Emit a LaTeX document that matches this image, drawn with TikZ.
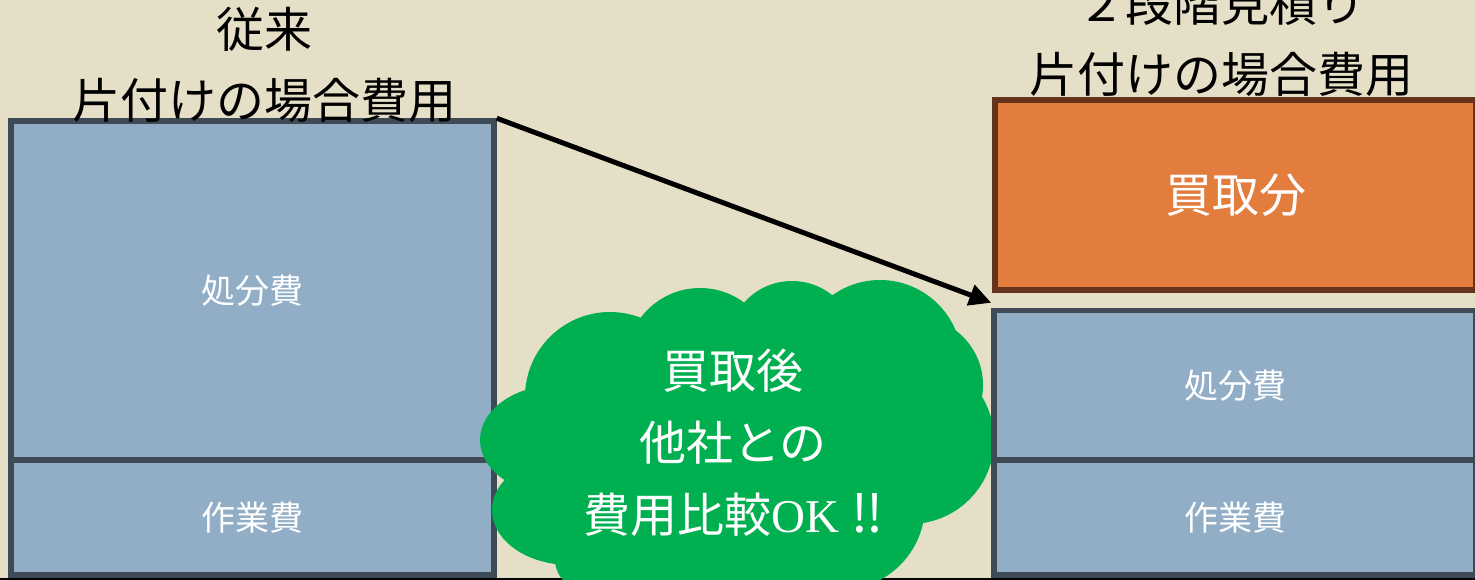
\documentclass[tikz,border=0pt]{standalone}
\usepackage{fontspec}
\newfontfamily\jp{Noto Sans CJK JP}
\newfontfamily\serifok{Liberation Serif}
\usetikzlibrary{arrows.meta}
\definecolor{bgc}{RGB}{230,223,199}
\definecolor{boxblue}{RGB}{145,174,198}
\definecolor{boxedge}{RGB}{62,74,85}
\definecolor{orangefill}{RGB}{227,125,62}
\definecolor{orangeedge}{RGB}{100,53,28}
\definecolor{cloudgreen}{RGB}{0,176,80}
\tikzset{
  costbox/.style={draw=boxedge, fill=boxblue, line width=5.5pt, inner sep=0pt,
    text=white, font=\jp\fontsize{34}{40}\selectfont},
  buybox/.style={draw=orangeedge, fill=orangefill, line width=5.5pt, inner sep=0pt,
    text=white, font=\jp\fontsize{47}{52}\selectfont},
  title/.style={align=center, text=black, inner sep=0pt, font=\jp\fontsize{48}{71}\selectfont},
  cloudtxt/.style={align=center, text=white, inner sep=0pt, font=\jp\fontsize{47}{72}\selectfont},
  arrowline/.style={line width=5pt, -{Triangle[length=22pt,width=21pt]}}
}
\begin{document}
\begin{tikzpicture}[x=1pt,y=-1pt]
\useasboundingbox (0,0) rectangle (1475,579);
\fill[bgc] (0,0) rectangle (1475,579);
\draw[black, line width=2pt] (0,578.5) -- (1475,578.5);
% left stack
\node[costbox, minimum width=483pt, minimum height=339pt] (ldisp) at (252.5,290.5) {処分費};
\node[costbox, minimum width=483pt, minimum height=115pt] (lwork) at (252.5,517.5) {作業費};
% cloud
\begin{scope}[cloudgreen]
\fill (610pt,-397pt) circle (85pt);
\fill (700pt,-362pt) circle (74pt);
\fill (792pt,-345pt) circle (64pt);
\fill (880pt,-362pt) circle (82pt);
\fill (915pt,-385pt) circle (68pt);
\fill (910pt,-440pt) circle (84pt);
\fill (840pt,-505pt) circle (85pt);
\fill (690pt,-560pt) ellipse [x radius=135pt, y radius=60pt];
\fill (558pt,-440pt) ellipse [x radius=78pt, y radius=55pt];
\fill (570pt,-510pt) ellipse [x radius=78pt, y radius=55pt];
\fill (730pt,-430pt) ellipse [x radius=180pt, y radius=110pt];
\end{scope}
\node[cloudtxt] (cloudtext) at (733,443) {買取後\\他社との\\費用比較{\serifok OK}\hspace{12pt}{\fontsize{52}{72}\selectfont ‼}};
% right stack
\node[buybox, minimum width=481pt, minimum height=190pt] (buy) at (1235.5,195) {買取分};
\node[costbox, minimum width=482pt, minimum height=149.5pt] (rdisp) at (1235,385.25) {処分費};
\node[costbox, minimum width=482pt, minimum height=115pt] (rwork) at (1235,517.5) {作業費};
% titles
\node[title] (ltitle) at (264,65) {従来\\片付けの場合費用};
\node[title] (rtitle) at (1221,39) {２段階見積り\\片付けの場合費用};
% arrow
\draw[arrowline] (ldisp.north east) -- ([yshift=5pt]rdisp.north west);
\end{tikzpicture}
\end{document}
